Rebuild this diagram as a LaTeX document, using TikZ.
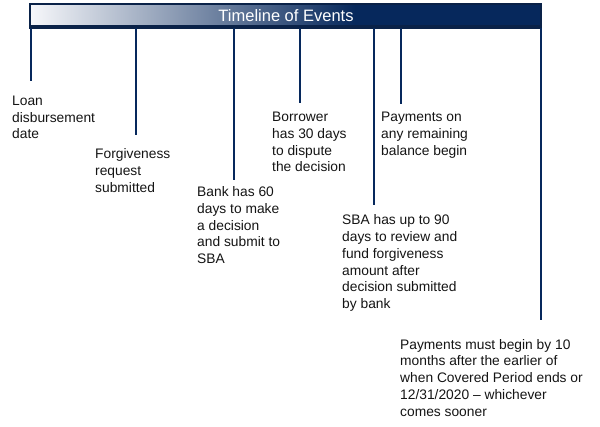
\documentclass[tikz,border=0pt]{standalone}
\usepackage{fontspec}
\setmainfont{Liberation Sans}
\definecolor{navy}{RGB}{6,40,92}
\definecolor{navydark}{RGB}{10,34,72}
\definecolor{barlight}{RGB}{246,247,250}
\definecolor{txt}{RGB}{20,20,20}
\begin{document}
\begin{tikzpicture}[x=1pt,y=-1pt,
  lbl/.style={anchor=base west,inner sep=0pt,align=left,text=txt,
    font=\fontsize{13.8}{16.7}\selectfont},
  tick/.style={draw=navy,line width=1.5pt},
  titlestyle/.style={inner sep=0pt,text=white,font=\fontsize{16.5}{18}\selectfont}]
\useasboundingbox (0,0) rectangle (600,427);
% bar
\fill[navy] (30,4) rectangle (541,28);
\shade[left color=barlight,right color=navy] (31,5) rectangle (355,27);
\draw[navydark,line width=1.8pt] (30,4) rectangle (541,28);
\draw[navydark,line width=3pt] (30,26.5) -- (541,26.5);
\node[titlestyle,anchor=base] (title) at (286,21.5) {Timeline of Events};
% tick coordinates
\coordinate (t1) at (31,28);  \coordinate (e1) at (31,81);
\coordinate (t2) at (136,28); \coordinate (e2) at (136,135);
\coordinate (t3) at (234,28); \coordinate (e3) at (234,180);
\coordinate (t4) at (300,28); \coordinate (e4) at (300,103);
\coordinate (t5) at (374,28); \coordinate (e5) at (374,205);
\coordinate (t6) at (401,28); \coordinate (e6) at (401,104);
\coordinate (t7) at (541,28); \coordinate (e7) at (541,320);
\foreach \i in {1,...,7} \draw[tick] (t\i) -- (e\i);
% labels (anchor = baseline of last line)
\node[lbl] (l1) at (12,138.9) {Loan\\disbursement\\date};
\node[lbl] (l2) at (95,192.4) {Forgiveness\\request\\submitted};
\node[lbl] (l3) at (197,263.5) {Bank has 60\\days to make\\a decision\\and submit to\\SBA};
\node[lbl] (l4) at (272,171.8) {Borrower\\has 30 days\\to dispute\\the decision};
\node[lbl] (l5) at (381,155.1) {Payments on\\any remaining\\balance begin};
\node[lbl] (l6) at (342,308.5) {SBA has up to 90\\days to review and\\fund forgiveness\\amount after\\decision submitted\\by bank};
\node[lbl] (l7) at (400,416.1) {Payments must begin by 10\\months after the earlier of\\when Covered Period ends or\\12/31/2020 -- whichever\\comes sooner};
\end{tikzpicture}
\end{document}
